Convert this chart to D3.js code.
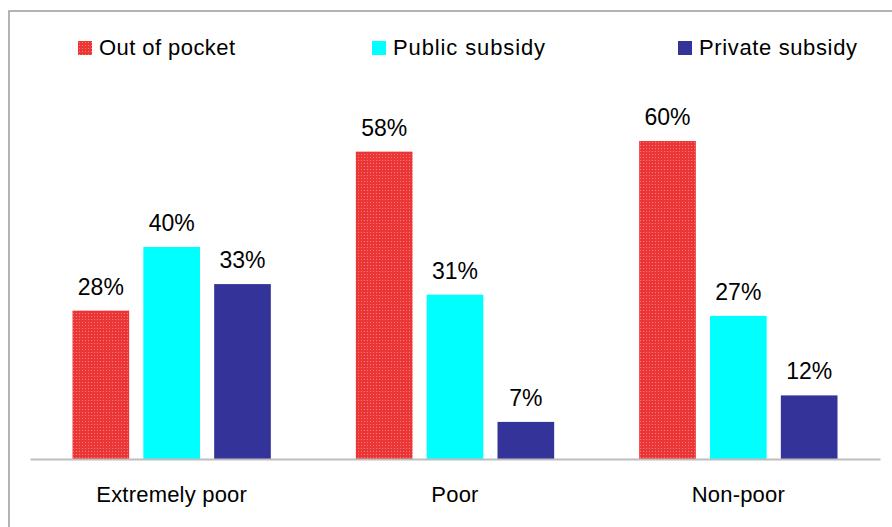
<!DOCTYPE html>
<html>
<head>
<meta charset="utf-8">
<script src="https://cdn.jsdelivr.net/npm/d3@7"></script>
<style>
  body { margin: 0; background: #fff; }
  svg { display: block; font-family: 'Liberation Sans', Arial, Helvetica, sans-serif; }
</style>
</head>
<body>
<div id="chart"></div>
<script>
// Data
const categories = ['Extremely poor', 'Poor', 'Non-poor']
const seriesNames = ['Out of pocket', 'Public subsidy', 'Private subsidy']
const outOfPocket = [28, 58, 60]
const publicSubsidy = [40, 31, 27]
const privateSubsidy = [33, 7, 12]

const seriesValues = [outOfPocket, publicSubsidy, privateSubsidy]
const colors = ['url(#redDots)', '#00ffff', '#333399']

const dimensions = {
  width: 892,
  height: 527,
  left: 30,
  right: 880,
  baseline: 459,
  top: 88
}

const svg = d3.select('#chart')
  .append('svg')
  .attr('width', dimensions.width)
  .attr('height', dimensions.height)

// dotted red fill
const pattern = svg.append('defs')
  .append('pattern')
  .attr('id', 'redDots')
  .attr('width', 3)
  .attr('height', 3)
  .attr('patternUnits', 'userSpaceOnUse')
pattern.append('rect')
  .attr('width', 3).attr('height', 3)
  .attr('fill', '#ec3535')
pattern.append('rect')
  .attr('x', 1).attr('y', 1)
  .attr('width', 1).attr('height', 1)
  .attr('fill', '#f47d7d')

// frame
svg.append('rect')
  .attr('x', 9)
  .attr('y', 11)
  .attr('width', 900)
  .attr('height', 540)
  .attr('fill', 'none')
  .attr('stroke', '#9a9a9a')
  .attr('stroke-width', 1.5)

// Scales
const x0 = d3.scaleBand()
  .domain(categories)
  .range([dimensions.left, dimensions.right])

const x1 = d3.scaleBand()
  .domain(seriesNames)
  .range([0, x0.bandwidth()])
  .paddingInner(0.2)
  .paddingOuter(0.6)

const yScale = d3.scaleLinear()
  .domain([0, 70])
  .range([dimensions.baseline, dimensions.top])

const rows = []
categories.forEach((cat, i) => {
  seriesNames.forEach((s, j) => {
    rows.push({ category: cat, series: s, value: seriesValues[j][i], color: colors[j] })
  })
})

// Bars
svg.append('g')
  .selectAll('rect')
  .data(rows)
  .join('rect')
  .attr('x', d => x0(d.category) + x1(d.series))
  .attr('y', d => yScale(d.value))
  .attr('width', x1.bandwidth())
  .attr('height', d => yScale(0) - yScale(d.value))
  .attr('fill', d => d.color)

// Value labels
svg.append('g')
  .selectAll('text')
  .data(rows)
  .join('text')
  .attr('x', d => x0(d.category) + x1(d.series) + x1.bandwidth() / 2)
  .attr('y', d => yScale(d.value) - 16)
  .attr('text-anchor', 'middle')
  .attr('font-size', 23)
  .attr('fill', '#000')
  .text(d => d.value + '%')

// Baseline axis
const xAxis = d3.axisBottom(x0).tickSize(0).tickPadding(27)
const xAxisGroup = svg.append('g')
  .attr('transform', `translate(0,${dimensions.baseline})`)
  .call(xAxis)
xAxisGroup.select('.domain')
  .attr('stroke', '#bdbdbd')
  .attr('stroke-width', 2)
xAxisGroup.selectAll('.tick text')
  .attr('font-size', 22)
  .attr('font-family', "'Liberation Sans', Arial, sans-serif")
  .attr('fill', '#000')
  .attr('letter-spacing', 0.2)

// Legend
const legendX = [78, 372, 678]
const legendTextWidth = [136, 152, 158]
const legend = svg.append('g')
  .selectAll('g')
  .data(seriesNames)
  .join('g')
  .attr('transform', (d, i) => `translate(${legendX[i]},41)`)

legend.append('rect')
  .attr('width', 14)
  .attr('height', 14)
  .attr('fill', (d, i) => colors[i])

legend.append('text')
  .attr('x', 21)
  .attr('y', 14)
  .attr('font-size', 22)
  .attr('textLength', (d, i) => legendTextWidth[i])
  .attr('lengthAdjust', 'spacing')
  .attr('fill', '#000')
  .text(d => d)
</script>
</body>
</html>
